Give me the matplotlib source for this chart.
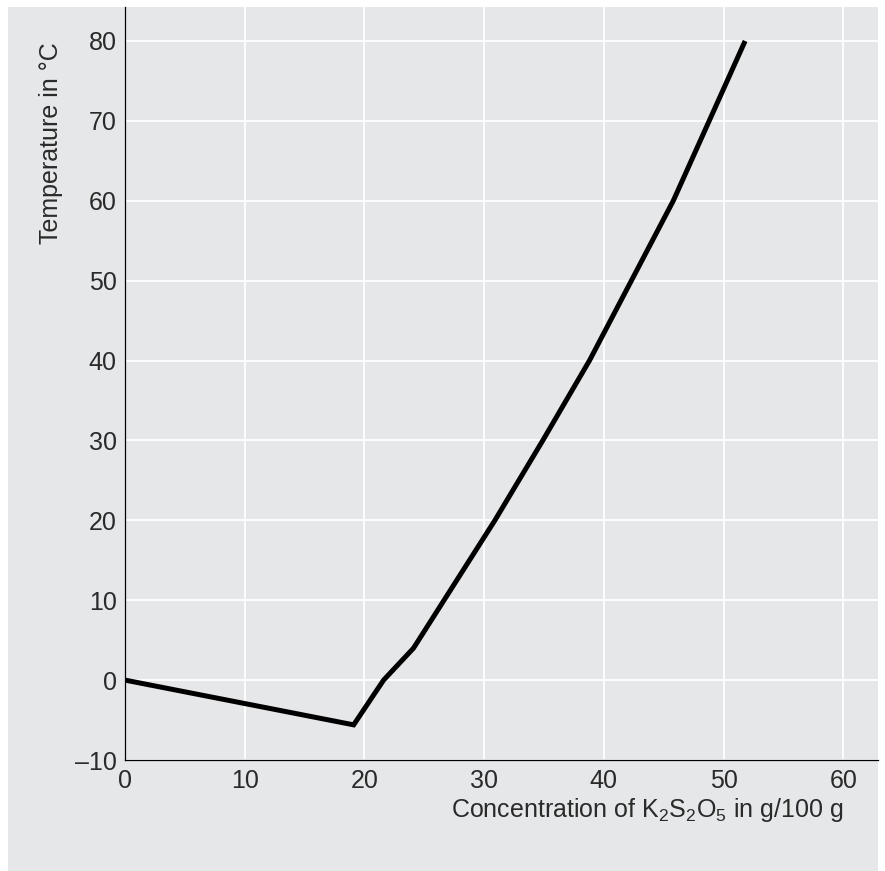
import matplotlib
matplotlib.use("Agg")
import matplotlib.pyplot as plt
from matplotlib.patches import Rectangle

# Data
concentration = [0, 19.1, 21.6, 24.1, 30.9, 34.9, 38.8, 42.3, 45.8, 48.8, 51.8]
temperature = [0, -5.6, 0, 4, 20, 30, 40, 50, 60, 70, 80]
x_ticks = [0, 10, 20, 30, 40, 50, 60]
y_ticks = [-10, 0, 10, 20, 30, 40, 50, 60, 70, 80]

plt.rcParams['font.family'] = ['Liberation Sans', 'DejaVu Sans']
plt.rcParams['mathtext.fontset'] = 'custom'
plt.rcParams['mathtext.rm'] = 'Liberation Sans'
plt.rcParams['mathtext.it'] = 'Liberation Sans'
plt.rcParams['mathtext.default'] = 'regular'

GREY = '#e6e7e8'
TXT = '#2a2a2a'
FS = 18
W, H = 885, 871
fig = plt.figure(figsize=(W / 100, H / 100), dpi=100, facecolor='white')

# grey panel behind everything
fig.patches.append(Rectangle((8 / W, 0), 870 / W, 864 / H, transform=fig.transFigure,
                             facecolor=GREY, edgecolor='none', zorder=-10))

left, right, bottom, top = 125, 878, 760, 7
ax = fig.add_axes([left / W, (H - bottom) / H, (right - left) / W, (bottom - top) / H])
ax.set_zorder(1)
ax.set_facecolor(GREY)

ax.plot(concentration, temperature, color='black', linewidth=3.6,
        solid_capstyle='butt', solid_joinstyle='miter', zorder=3)

ax.set_xlim(0, 62.9)
ax.set_ylim(-10, 84.25)
ax.set_xticks(x_ticks)
ax.set_yticks(y_ticks)
ax.set_xticklabels([str(v) for v in x_ticks])
ax.set_yticklabels([str(v).replace('-', '\u2013') for v in y_ticks])
ax.tick_params(axis='both', length=0, labelsize=FS, colors=TXT)
ax.tick_params(axis='x', pad=6.5)
ax.tick_params(axis='y', pad=6)

ax.grid(True, color='white', linewidth=1.3)
ax.set_axisbelow(True)

for s in ['top', 'right']:
    ax.spines[s].set_visible(False)
for s in ['left', 'bottom']:
    ax.spines[s].set_color('black')
    ax.spines[s].set_linewidth(0.9)
    ax.spines[s].set_zorder(4)

ax.text(0.9535, -0.0757, 'Concentration of K$_2$S$_2$O$_5$ in g/100 g',
        transform=ax.transAxes, ha='right', va='baseline', fontsize=FS,
        color=TXT)
ax.text(-0.089, 0.9535, 'Temperature in °C', transform=ax.transAxes,
        rotation=90, rotation_mode='anchor', ha='right', va='baseline',
        fontsize=FS, color=TXT)

fig.savefig('out.png', dpi=100, facecolor='white')
